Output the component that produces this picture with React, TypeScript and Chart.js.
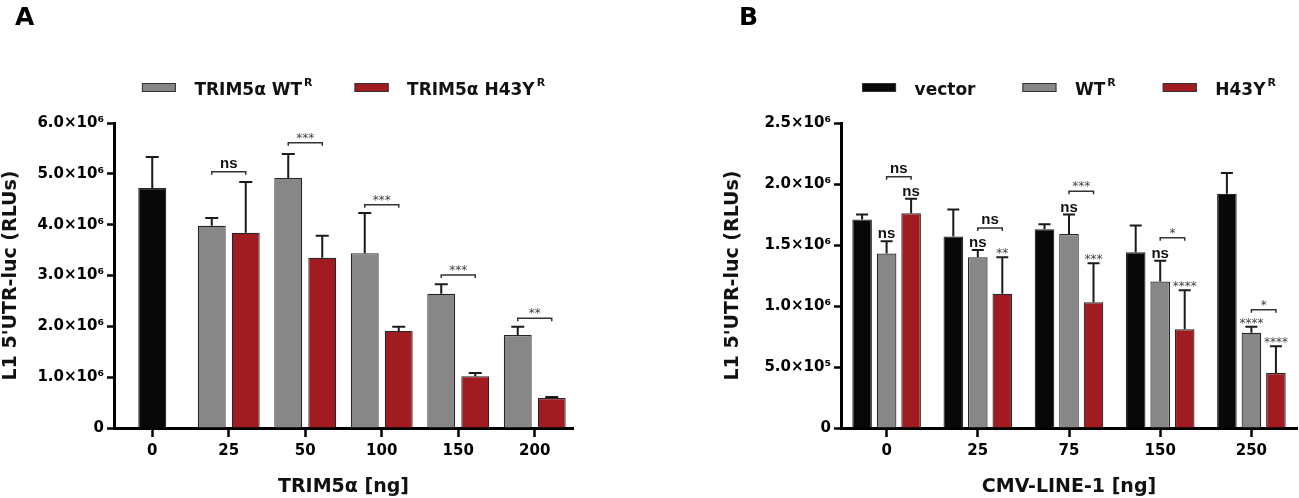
import React, { useEffect, useRef } from "react";
import { Chart, registerables } from "chart.js";

Chart.register(...registerables);

const FONT = "'DejaVu Sans', sans-serif";
Chart.defaults.font.family = FONT;
Chart.defaults.color = "#000";

const GREY = "#878787";
const RED = "#a01c21";
const BLACK = "#080808";

// ---- panel A : TRIM5α dose ----
const doseA = ["0", "25", "50", "100", "150", "200"];
const yTicksA = ["0", "1.0×10⁶", "2.0×10⁶", "3.0×10⁶", "4.0×10⁶", "5.0×10⁶", "6.0×10⁶"];
const namesA = ["vector", "TRIM5α WT", "TRIM5α H43Y"];
const supA = ["", "R", "R"];
const vectorA = [4.72e6, null, null, null, null, null];
const vectorErrA = [0.61e6, null, null, null, null, null];
const wtA = [null, 3.98e6, 4.92e6, 3.44e6, 2.64e6, 1.83e6];
const wtErrA = [null, 0.15e6, 0.47e6, 0.79e6, 0.19e6, 0.16e6];
const h43yA = [null, 3.84e6, 3.35e6, 1.91e6, 1.02e6, 0.59e6];
const h43yErrA = [null, 1.0e6, 0.43e6, 0.08e6, 0.06e6, 0.02e6];
const bracketA = [null, 5.04e6, 5.61e6, 4.39e6, 3.01e6, 2.16e6];
const bracketTextA = ["", "ns", "***", "***", "***", "**"];

// ---- panel B : CMV-LINE-1 dose ----
const doseB = ["0", "25", "75", "150", "250"];
const yTicksB = ["0", "5.0×10⁵", "1.0×10⁶", "1.5×10⁶", "2.0×10⁶", "2.5×10⁶"];
const namesB = ["vector", "WT", "H43Y"];
const supB = ["", "R", "R"];
const vectorB = [1.71e6, 1.57e6, 1.63e6, 1.44e6, 1.92e6];
const vectorErrB = [0.04e6, 0.22e6, 0.04e6, 0.22e6, 0.17e6];
const wtB = [1.43e6, 1.40e6, 1.59e6, 1.20e6, 0.78e6];
const wtErrB = [0.10e6, 0.06e6, 0.16e6, 0.17e6, 0.05e6];
const h43yB = [1.76e6, 1.10e6, 1.03e6, 0.81e6, 0.45e6];
const h43yErrB = [0.12e6, 0.30e6, 0.32e6, 0.32e6, 0.22e6];
const wtMarksB = ["ns", "ns", "ns", "ns", "****"];
const h43yMarksB = ["ns", "**", "***", "****", "****"];
const bracketB = [2.06e6, 1.64e6, 1.94e6, 1.56e6, 0.97e6];
const bracketTextB = ["ns", "ns", "***", "*", "*"];

type Series = {
  name: string;
  sup: string;
  color: string;
  data: (number | null)[];
  err: (number | null)[];
  marks?: string[];
};

type PanelProps = {
  width: number;
  labels: string[];
  series: Series[];
  legend: number[];
  yMax: number;
  yStep: number;
  yTicks: string[];
  xTitle: string;
  yTitle: string;
  brackets: (number | null)[];
  bracketText: string[];
  padding: { top: number; left: number; right: number; bottom: number };
  yWidth: number;
  cp: number;
  bp: number;
  maxBar: number;
  cap: number;
  legendGap: number;
};

const isStars = (t: string) => /^\*+$/.test(t);

function markFont(t: string) {
  return isStars(t) ? `12px ${FONT}` : `bold 15px 'Liberation Sans', sans-serif`;
}

function markDy(t: string) {
  return isStars(t) ? -1 : -4;
}

function Panel(p: PanelProps) {
  const canvasRef = useRef<HTMLCanvasElement | null>(null);

  useEffect(() => {
    if (!canvasRef.current) return;
    const ctx = canvasRef.current.getContext("2d");
    if (!ctx) return;

    const extras = {
      id: "extras",
      afterDatasetsDraw(chart: any) {
        const c = chart.ctx as CanvasRenderingContext2D;
        const y = chart.scales.y;
        c.save();
        c.strokeStyle = "#1a1a1a";
        c.lineWidth = 2;
        // error bars (upper half only) and per-bar marks
        p.series.forEach((s, i) => {
          const meta = chart.getDatasetMeta(i);
          meta.data.forEach((bar: any, j: number) => {
            const v = s.data[j];
            const e = s.err[j];
            if (v == null || e == null) return;
            const top = y.getPixelForValue(v + e);
            c.beginPath();
            c.moveTo(bar.x, bar.y);
            c.lineTo(bar.x, top);
            c.moveTo(bar.x - p.cap / 2, top);
            c.lineTo(bar.x + p.cap / 2, top);
            c.stroke();
            const m = s.marks ? s.marks[j] : "";
            if (m) {
              c.font = markFont(m);
              c.fillStyle = isStars(m) ? "#444" : "#111";
              c.textAlign = "center";
              c.textBaseline = "alphabetic";
              c.fillText(m, bar.x, top + markDy(m) + 1);
            }
          });
        });
        // significance brackets between WT and H43Y
        const wt = chart.getDatasetMeta(1).data;
        const mu = chart.getDatasetMeta(2).data;
        c.lineWidth = 1.5;
        c.strokeStyle = "#333";
        p.brackets.forEach((b, j) => {
          if (b == null) return;
          const x1 = wt[j].x;
          const x2 = mu[j].x;
          const yy = y.getPixelForValue(b);
          c.beginPath();
          c.moveTo(x1, yy + 3);
          c.lineTo(x1, yy);
          c.lineTo(x2, yy);
          c.lineTo(x2, yy + 3);
          c.stroke();
          const t = p.bracketText[j];
          c.font = markFont(t);
          c.fillStyle = isStars(t) ? "#444" : "#111";
          c.textAlign = "center";
          c.textBaseline = "alphabetic";
          c.fillText(t, (x1 + x2) / 2, yy + markDy(t));
        });
        c.restore();
      },
      afterDraw(chart: any) {
        // legend with superscript "R"
        const c = chart.ctx as CanvasRenderingContext2D;
        const area = chart.chartArea;
        const items = p.legend.map((i) => p.series[i]);
        const mainFont = `bold 17px ${FONT}`;
        const supFont = `bold 11px ${FONT}`;
        const boxW = 34;
        const gapBT = 18.5;
        c.save();
        const widths = items.map((s) => {
          c.font = mainFont;
          const w = c.measureText(s.name).width;
          c.font = supFont;
          const ws = s.sup ? c.measureText(s.sup).width + 2 : 0;
          return { w, ws, total: boxW + gapBT + w + ws };
        });
        const total = widths.reduce((a, b) => a + b.total, 0) + p.legendGap * (items.length - 1);
        const cy = area.top - 35.5;
        let x = (area.left + area.right) / 2 - total / 2;
        items.forEach((s, k) => {
          c.fillStyle = s.color;
          c.fillRect(x, cy - 4.5, boxW, 9);
          c.strokeStyle = "#333";
          c.lineWidth = 1;
          c.strokeRect(x + 0.5, cy - 4, boxW - 1, 8);
          const tx = x + boxW + gapBT;
          c.fillStyle = "#111";
          c.textAlign = "left";
          c.textBaseline = "alphabetic";
          c.font = mainFont;
          c.fillText(s.name, tx, cy + 7);
          if (s.sup) {
            c.font = supFont;
            c.fillText(s.sup, tx + widths[k].w + 2, cy - 1.5);
          }
          x += widths[k].total + p.legendGap;
        });
        c.restore();
      },
    };

    const chart = new Chart(ctx, {
      type: "bar",
      data: {
        labels: p.labels,
        datasets: p.series.map((s) => ({
          label: s.name,
          data: s.data,
          backgroundColor: s.color,
          borderColor: "#262626",
          borderWidth: 1.2,
        })),
      },
      options: {
        animation: false,
        responsive: false,
        maintainAspectRatio: false,
        events: [],
        layout: { padding: p.padding },
        datasets: {
          bar: {
            skipNull: true,
            categoryPercentage: p.cp,
            barPercentage: p.bp,
            maxBarThickness: p.maxBar,
          },
        },
        plugins: {
          legend: { display: false },
          tooltip: { enabled: false },
        },
        scales: {
          x: {
            type: "category",
            offset: true,
            grid: {
              offset: false,
              drawOnChartArea: false,
              tickLength: 9,
              tickWidth: 2.5,
              tickColor: "#000",
            },
            border: { width: 3, color: "#000" },
            ticks: {
              font: { size: 15, weight: "bold" },
              color: "#000",
              padding: 5,
              maxRotation: 0,
              autoSkip: false,
            },
            title: {
              display: true,
              text: p.xTitle,
              font: { size: 19, weight: "bold" },
              color: "#111",
              padding: 0,
            },
            afterFit: (s: any) => {
              s.height = 70;
            },
          },
          y: {
            min: 0,
            max: p.yMax,
            grid: {
              drawOnChartArea: false,
              tickLength: 7,
              tickWidth: 2.5,
              tickColor: "#000",
            },
            border: { width: 3, color: "#000" },
            ticks: {
              stepSize: p.yStep,
              font: { size: 15, weight: "bold" },
              color: "#000",
              padding: 3,
              callback: (_v: any, i: number) => p.yTicks[i],
            },
            title: {
              display: true,
              text: p.yTitle,
              font: { size: 19, weight: "bold" },
              color: "#111",
              padding: 0,
            },
            afterFit: (s: any) => {
              s.width = p.yWidth;
            },
          },
        },
      },
      plugins: [extras],
    } as any);

    return () => {
      chart.destroy();
    };
  }, [p]);

  return (
    <div style={{ width: p.width, height: 498 }}>
      <canvas ref={canvasRef} width={p.width} height={498} />
    </div>
  );
}

const panelA: PanelProps = {
  width: 650,
  labels: doseA,
  series: [
    { name: namesA[0], sup: supA[0], color: BLACK, data: vectorA, err: vectorErrA },
    { name: namesA[1], sup: supA[1], color: GREY, data: wtA, err: wtErrA },
    { name: namesA[2], sup: supA[2], color: RED, data: h43yA, err: h43yErrA },
  ],
  legend: [1, 2],
  yMax: 6e6,
  yStep: 1e6,
  yTicks: yTicksA,
  xTitle: "TRIM5α [ng]",
  yTitle: "L1 5'UTR-luc (RLUs)",
  brackets: bracketA,
  bracketText: bracketTextA,
  padding: { top: 123, left: 0, right: 77, bottom: 0 },
  yWidth: 114,
  cp: 0.889,
  bp: 0.82,
  maxBar: 28,
  cap: 13,
  legendGap: 42,
};

const panelB: PanelProps = {
  width: 649,
  labels: doseB,
  series: [
    { name: namesB[0], sup: supB[0], color: BLACK, data: vectorB, err: vectorErrB },
    { name: namesB[1], sup: supB[1], color: GREY, data: wtB, err: wtErrB, marks: wtMarksB },
    { name: namesB[2], sup: supB[2], color: RED, data: h43yB, err: h43yErrB, marks: h43yMarksB },
  ],
  legend: [0, 1, 2],
  yMax: 2.5e6,
  yStep: 5e5,
  yTicks: yTicksB,
  xTitle: "CMV-LINE-1 [ng]",
  yTitle: "L1 5'UTR-luc (RLUs)",
  brackets: bracketB,
  bracketText: bracketTextB,
  padding: { top: 123, left: 72, right: 2, bottom: 0 },
  yWidth: 119,
  cp: 0.806,
  bp: 0.8,
  maxBar: 20,
  cap: 12,
  legendGap: 47,
};

const letterStyle: React.CSSProperties = {
  position: "absolute",
  top: 4,
  font: `bold 25px ${FONT}`,
  lineHeight: "25px",
  color: "#000",
};

export default function App() {
  useEffect(() => {
    document.body.style.margin = "0";
  }, []);

  return (
    <div style={{ position: "relative", width: 1299, height: 498, display: "flex", background: "#fff" }}>
      <Panel {...panelA} />
      <Panel {...panelB} />
      <div style={{ ...letterStyle, left: 15 }}>A</div>
      <div style={{ ...letterStyle, left: 739 }}>B</div>
    </div>
  );
}
